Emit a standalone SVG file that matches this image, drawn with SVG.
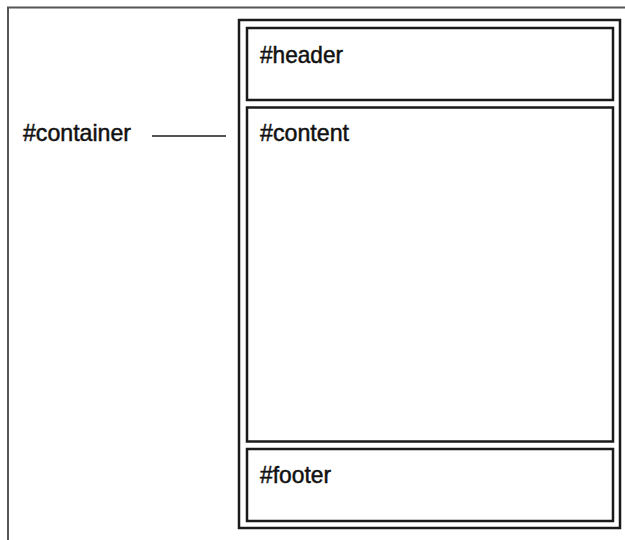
<svg xmlns="http://www.w3.org/2000/svg" width="625" height="540" viewBox="0 0 625 540">
<style>
.box{fill:#fff;stroke:#1a1a1a;stroke-width:2.5}
.frame{fill:none;stroke:#555;stroke-width:2}
.lbl{font-family:"Liberation Sans",Arial,sans-serif;font-size:24px;fill:#111;stroke:#111;stroke-width:0.5}
</style>
<rect width="625" height="540" fill="#fff"/>
<g id="frame">
<polyline class="frame" points="8,540 8,7.5 625,7.5"/>
</g>
<g id="container">
<rect class="box" x="239" y="20" width="381" height="508"/>
</g>
<g id="header">
<rect class="box" x="247" y="28" width="366" height="72"/>
<text class="lbl" x="260" y="63" textLength="83" lengthAdjust="spacingAndGlyphs">#header</text>
</g>
<g id="content">
<rect class="box" x="247" y="107.5" width="366" height="334"/>
<text class="lbl" x="260" y="141" textLength="89" lengthAdjust="spacingAndGlyphs">#content</text>
</g>
<g id="footer">
<rect class="box" x="247" y="449" width="366" height="72"/>
<text class="lbl" x="260" y="483" textLength="71" lengthAdjust="spacingAndGlyphs">#footer</text>
</g>
<g id="container-label">
<text class="lbl" x="23" y="141" textLength="108" lengthAdjust="spacingAndGlyphs">#container</text>
</g>
<g id="connectors">
<line x1="152" y1="136" x2="226" y2="136" stroke="#1a1a1a" stroke-width="1.5"/>
</g>
</svg>
